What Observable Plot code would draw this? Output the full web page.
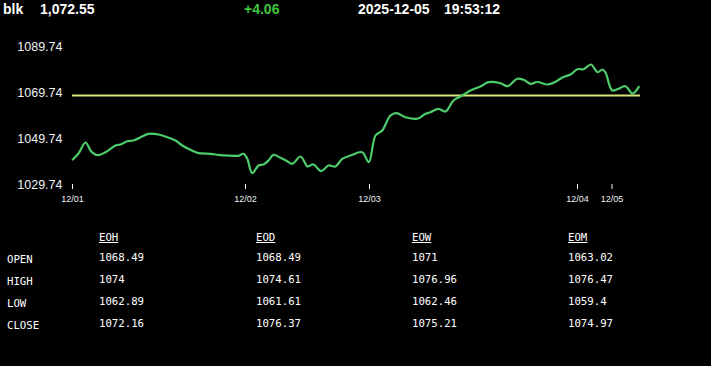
<!DOCTYPE html>
<html>
<head>
<meta charset="utf-8">
<script src="https://cdn.jsdelivr.net/npm/d3@7"></script>
<script src="https://cdn.jsdelivr.net/npm/@observablehq/plot@0.6"></script>
<style>
  html, body { margin: 0; padding: 0; background: #000; width: 711px; height: 366px; overflow: hidden; }
  #wrap { position: relative; width: 711px; height: 366px; background: #000; }
  .hdr { position: absolute; top: 1px; font: bold 14px "Liberation Sans", Arial, sans-serif; color: #fff; white-space: pre; }
  #chart { position: absolute; left: 0; top: 30px; }
  .tb { position: absolute; font: 10.7px "DejaVu Sans Mono", "Liberation Mono", monospace; color: #fff; white-space: pre; }
  .th { text-decoration: underline; }
</style>
</head>
<body>
<div id="wrap"></div>
<script>
// ---- data ----
const symbol = "blk";
const lastPrice = "1,072.55";
const change = "+4.06";
const dateText = "2025-12-05";
const timeText = "19:53:12";

// position along the session axis (0 = 12/01) and price
const pos = [0.3, 6, 13, 18, 21, 26, 33, 43, 48, 54.7, 61, 69.7, 76, 86, 94.7, 103, 109.7, 118, 126, 138, 148, 161, 166, 171, 174.7, 179.7, 186, 191, 196, 201, 208, 214.7, 219.7, 228, 233, 235, 241, 248.7, 256, 263, 269.7, 278, 289.7, 296.3, 303, 309.7, 318, 324, 333, 344.7, 353, 358, 366, 373, 381, 388, 398, 408, 416, 428, 435, 444.7, 451, 458, 464.7, 474.7, 481, 491, 498, 505, 511, 518.5, 525, 530, 533, 539.7, 545.5, 553, 560, 566.3];
const price = [1040.61, 1043.22, 1048.00, 1044.52, 1043.22, 1042.48, 1043.78, 1046.70, 1047.13, 1048.57, 1048.87, 1050.61, 1051.78, 1051.48, 1050.31, 1048.87, 1046.70, 1044.83, 1043.35, 1043.09, 1042.48, 1042.22, 1042.22, 1043.09, 1041.04, 1034.65, 1038.00, 1038.44, 1040.17, 1042.65, 1041.35, 1039.87, 1038.74, 1041.91, 1038.74, 1037.57, 1038.44, 1035.52, 1038.00, 1037.57, 1040.91, 1042.35, 1043.78, 1039.44, 1051.04, 1053.22, 1059.74, 1060.74, 1059.00, 1058.31, 1060.48, 1061.17, 1062.65, 1061.48, 1066.26, 1068.00, 1070.61, 1072.35, 1074.22, 1073.78, 1072.48, 1075.70, 1075.26, 1073.52, 1074.31, 1073.22, 1073.96, 1076.48, 1077.57, 1079.87, 1079.87, 1081.91, 1078.57, 1079.74, 1078.44, 1070.61, 1071.26, 1072.48, 1069.31, 1072.2];

const openLevel = 1068.49;
const axisEnd = 568;

const xTickPos = [0, 173, 297, 505, 539.5];
const xTickLabels = ["12/01", "12/02", "12/03", "12/04", "12/05"];
const yTicks = [1029.74, 1049.74, 1069.74, 1089.74];

const rowLabels = ["OPEN", "HIGH", "LOW", "CLOSE"];
const colLabels = ["EOH", "EOD", "EOW", "EOM"];
const EOH = ["1068.49", "1074", "1062.89", "1072.16"];
const EOD = ["1068.49", "1074.61", "1061.61", "1076.37"];
const EOW = ["1071", "1076.96", "1062.46", "1075.21"];
const EOM = ["1063.02", "1076.47", "1059.4", "1074.97"];

// ---- build ----
const wrap = document.getElementById("wrap");
function addText(cls, txt, left, top, color) {
  const d = document.createElement("div");
  d.className = cls;
  d.textContent = txt;
  d.style.left = left + "px";
  d.style.top = top + "px";
  if (color) d.style.color = color;
  wrap.appendChild(d);
  return d;
}
addText("hdr", symbol, 3, 1);
addText("hdr", lastPrice, 40, 1);
addText("hdr", change, 244, 1, "#3fc43f");
addText("hdr", dateText, 358, 1);
addText("hdr", timeText, 444, 1);

const series = pos.map((p, i) => ({p, v: price[i]}));
const tickLabelMap = new Map(xTickPos.map((p, i) => [p, xTickLabels[i]]));

const chart = Plot.plot({
  width: 711,
  height: 185,
  marginLeft: 72,
  marginRight: 71,
  marginTop: 16,
  marginBottom: 31,
  style: {background: "#000", color: "#fff", overflow: "visible"},
  x: {domain: [0, axisEnd], label: null},
  y: {domain: [1029.74, 1089.74], label: null},
  marks: [
    Plot.axisY(yTicks, {tickSize: 0, tickPadding: 10, tickFormat: d => d.toFixed(2), fontSize: 12.5, fill: "#f2f2f2", fontFamily: "Liberation Sans, Arial, sans-serif"}),
    Plot.axisX(xTickPos, {tickSize: 5, tickPadding: 6, tickFormat: d => tickLabelMap.get(d), fontSize: 9, fill: "#f2f2f2", stroke: "#fff", fontFamily: "Liberation Sans, Arial, sans-serif"}),
    Plot.ruleY([openLevel], {x1: 0, x2: axisEnd, stroke: "#d9e27a", strokeWidth: 2}),
    Plot.line(series, {x: "p", y: "v", stroke: "#4ccc6a", strokeWidth: 2.2, curve: "catmull-rom"})
  ]
});
chart.id = "chart";
wrap.appendChild(chart);

// table
const colX = [99, 256, 412, 568];
const cols = [EOH, EOD, EOW, EOM];
colLabels.forEach((c, j) => addText("tb th", c, colX[j], 231));
const rowY = [251, 273, 295, 317];
rowLabels.forEach((r, i) => addText("tb", r, 7, rowY[i] + 2));
cols.forEach((col, j) => col.forEach((v, i) => addText("tb", v, colX[j], rowY[i])));
</script>
</body>
</html>
